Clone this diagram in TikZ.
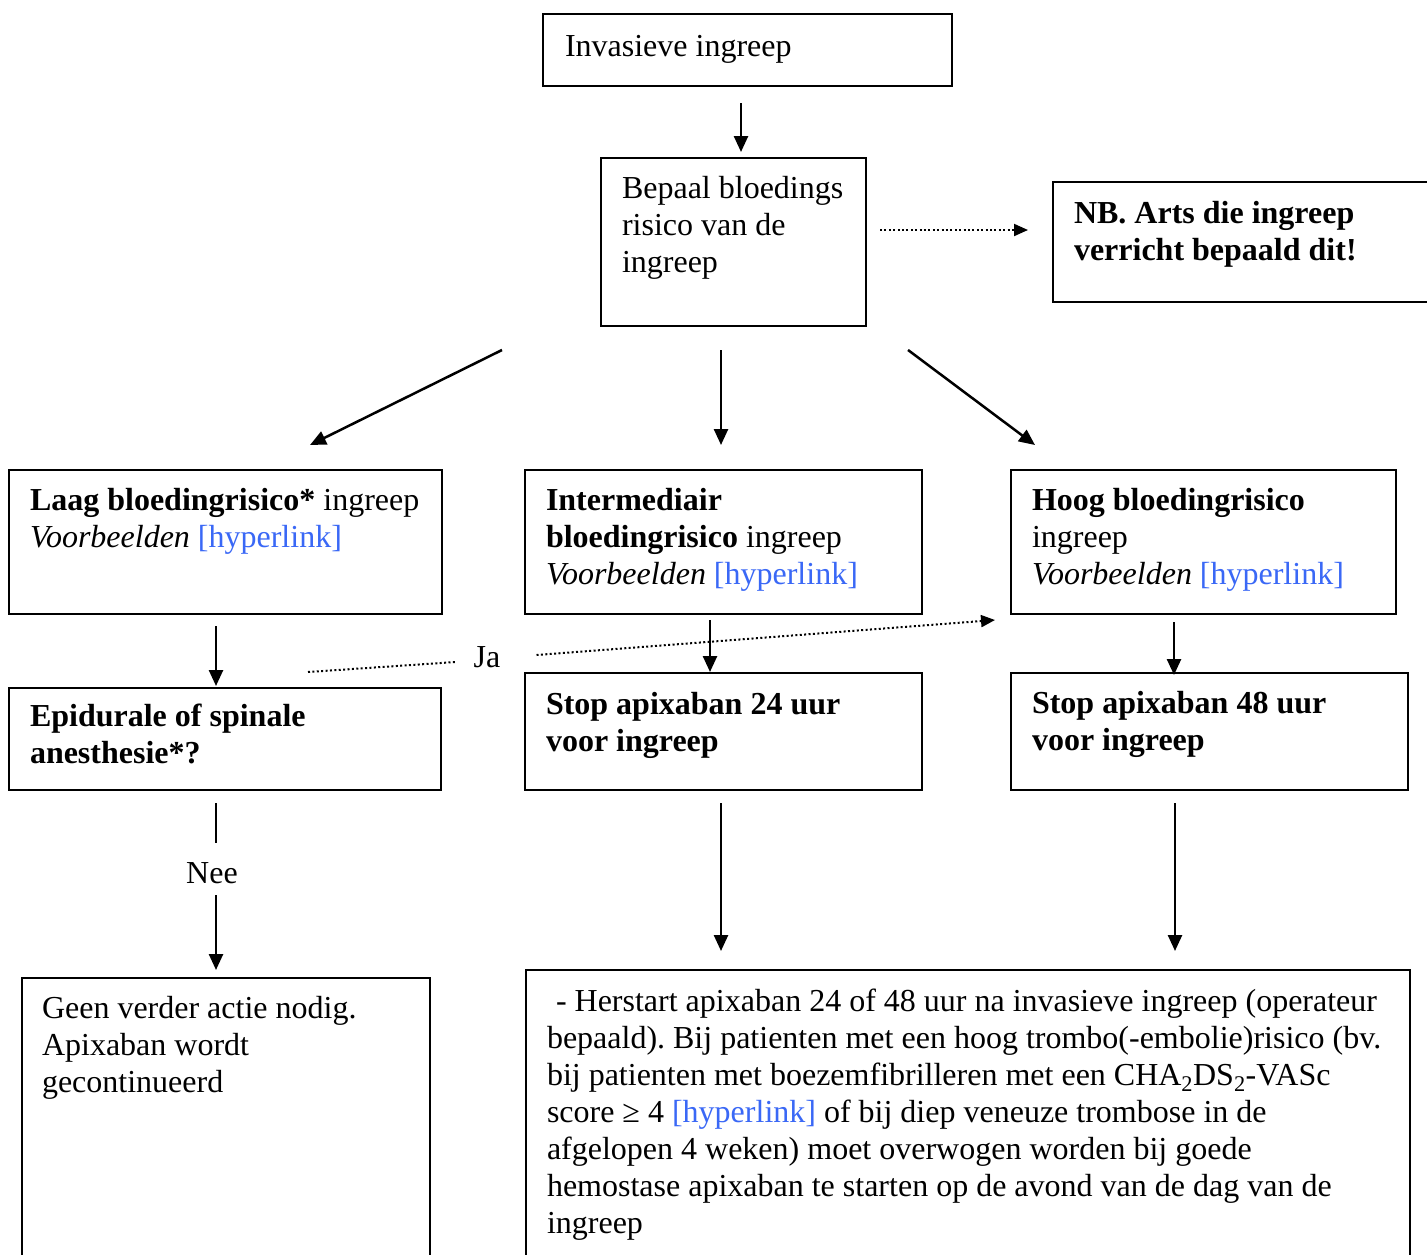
\documentclass[tikz,border=0pt]{standalone}
\usepackage{fontspec}
\setmainfont{Liberation Serif}
\usetikzlibrary{arrows.meta,calc}
\definecolor{hlink}{RGB}{58,104,246}
\frenchspacing
\newcommand{\flowfont}{\fontsize{32}{37}\selectfont}
\begin{document}
\begin{tikzpicture}[x=1pt,y=-1pt,
  every node/.style={font=\flowfont},
  box/.style={draw, line width=2pt, inner sep=0pt, outer sep=0pt, anchor=north west},
  % left-aligned text keeping the font's own word spacing
  txt/.style={anchor=base west, inner sep=0pt, outer sep=0pt, align=left, text width=#1,
              execute at begin node={\spaceskip=0pt\xspaceskip=0pt\relax}},
  txt/.default=900pt,
  boldtxt/.style={txt=#1, font=\flowfont\bfseries},
  boldtxt/.default=900pt,
  arr/.style={line width=2.5pt, -{Triangle[length=16pt,width=14pt]}},
  dotline/.style={line width=2pt, dash pattern=on 2pt off 2.4pt},
  dotarr/.style={dotline, -{Triangle[length=14pt,width=12pt]}}
]
\useasboundingbox (0,0) rectangle (1427,1254);
\fill[white] (0,0) rectangle (1427,1254);
\clip (0,0) rectangle (1427,1254);

% ---------- boxes ----------
\node[box, minimum width=409pt, minimum height=72pt]  (invasive) at (543,14)  {};
\node[box, minimum width=265pt, minimum height=168pt] (bepaal)   at (601,158) {};
\node[box, minimum width=400pt, minimum height=120pt] (nb)       at (1053,182) {};
\node[box, minimum width=433pt, minimum height=144pt] (laag)     at (9,470)   {};
\node[box, minimum width=397pt, minimum height=144pt] (inter)    at (525,470) {};
\node[box, minimum width=385pt, minimum height=144pt] (hoog)     at (1011,470) {};
\node[box, minimum width=432pt, minimum height=102pt] (epi)      at (9,688)   {};
\node[box, minimum width=397pt, minimum height=117pt] (stop24)   at (525,673) {};
\node[box, minimum width=397pt, minimum height=117pt] (stop48)   at (1011,673) {};
\node[box, minimum width=408pt, minimum height=330pt] (geen)     at (22,978)  {};
\node[box, minimum width=884pt, minimum height=330pt] (herstart) at (526,970) {};

% ---------- box texts ----------
\node[txt] (t-invasive) at ($(invasive.north west)+(22,42)$) {Invasieve ingreep};
\node[txt] (t-bepaal) at ($(bepaal.north west)+(21,40)$)
  {Bepaal bloedings\\risico van de\\ingreep};
\node[boldtxt] (t-nb) at ($(nb.north west)+(21,41)$)
  {NB. Arts die ingreep\\verricht bepaald dit!};
\node[txt] (t-laag) at ($(laag.north west)+(21,40)$)
  {\textbf{Laag bloedingrisico*} ingreep\\\textit{Voorbeelden} \textcolor{hlink}{[hyperlink]}};
\node[txt] (t-inter) at ($(inter.north west)+(21,40)$)
  {\textbf{Intermediair}\\\textbf{bloedingrisico} ingreep\\\textit{Voorbeelden} \textcolor{hlink}{[hyperlink]}};
\node[txt] (t-hoog) at ($(hoog.north west)+(21,40)$)
  {\textbf{Hoog bloedingrisico}\\ingreep\\\textit{Voorbeelden} \textcolor{hlink}{[hyperlink]}};
\node[boldtxt] (t-epi) at ($(epi.north west)+(21,38)$)
  {Epidurale of spinale\\anesthesie*?};
\node[boldtxt] (t-stop24) at ($(stop24.north west)+(21,41)$)
  {Stop apixaban 24 uur\\voor ingreep};
\node[boldtxt] (t-stop48) at ($(stop48.north west)+(21,40)$)
  {Stop apixaban 48 uur\\voor ingreep};
\node[txt] (t-geen) at ($(geen.north west)+(20,40)$)
  {Geen verder actie nodig.\\Apixaban wordt\\gecontinueerd};
\node[txt] (t-herstart) at ($(herstart.north west)+(21,41)$)
  {\hspace*{9pt}- Herstart apixaban 24 of 48 uur na invasieve ingreep (operateur\\
   bepaald). Bij patienten met een hoog trombo(-embolie)risico (bv.\\
   bij patienten met boezemfibrilleren met een CHA\textsubscript{2}DS\textsubscript{2}-VASc\\
   score ≥ 4 \textcolor{hlink}{[hyperlink]} of bij diep veneuze trombose in de\\
   afgelopen 4 weken) moet overwogen worden bij goede\\
   hemostase apixaban te starten op de avond van de dag van de\\
   ingreep};

% ---------- labels ----------
\node[inner sep=0pt, minimum height=52pt] (nee) at (212,873) {Nee};
\node[inner sep=0pt] (ja) at (487,657) {Ja};

% ---------- connectors ----------
\draw[arr] ($(invasive.south west)+(198,17)$) -- ($(bepaal.north west)+(140,-6)$);
\draw[dotarr] ($(bepaal.east)+(14,-12)$) -- ($(nb.west)+(-25,-12)$);

\draw[arr] ($(bepaal.south west)+(-99,24)$) -- ($(laag.north west)+(301,-25)$);
\draw[arr] ($(bepaal.south west)+(120,24)$) -- ($(inter.north west)+(196,-25)$);
\draw[arr] ($(bepaal.south east)+(42,24)$)  -- ($(hoog.north west)+(24,-25)$);

\draw[arr] ($(laag.south west)+(207,12)$)  -- ($(epi.north west)+(207,-2)$);
\draw[arr] ($(inter.south west)+(185,6)$)  -- ($(stop24.north west)+(185,-1)$);
\draw[arr] ($(hoog.south west)+(163,8)$)   -- ($(stop48.north west)+(163,2)$);

\draw[line width=2.5pt] ($(epi.south west)+(207,13)$) -- ($(nee.north)+(4,-4)$);
\draw[arr] ($(nee.south)+(4,-4)$) -- ($(geen.north west)+(194,-8)$);

\draw[arr] ($(stop24.south west)+(196,13)$) -- ($(herstart.north west)+(195,-19)$);
\draw[arr] ($(stop48.south west)+(164,13)$) -- ($(herstart.north west)+(649,-19)$);

\draw[dotline] ($(epi.north east)+(-133,-16)$) -- ($(ja.west)+(-18,5)$);
\draw[dotarr]  ($(ja.east)+(36,-2)$) -- ($(hoog.south west)+(-16,6)$);
\end{tikzpicture}
\end{document}
